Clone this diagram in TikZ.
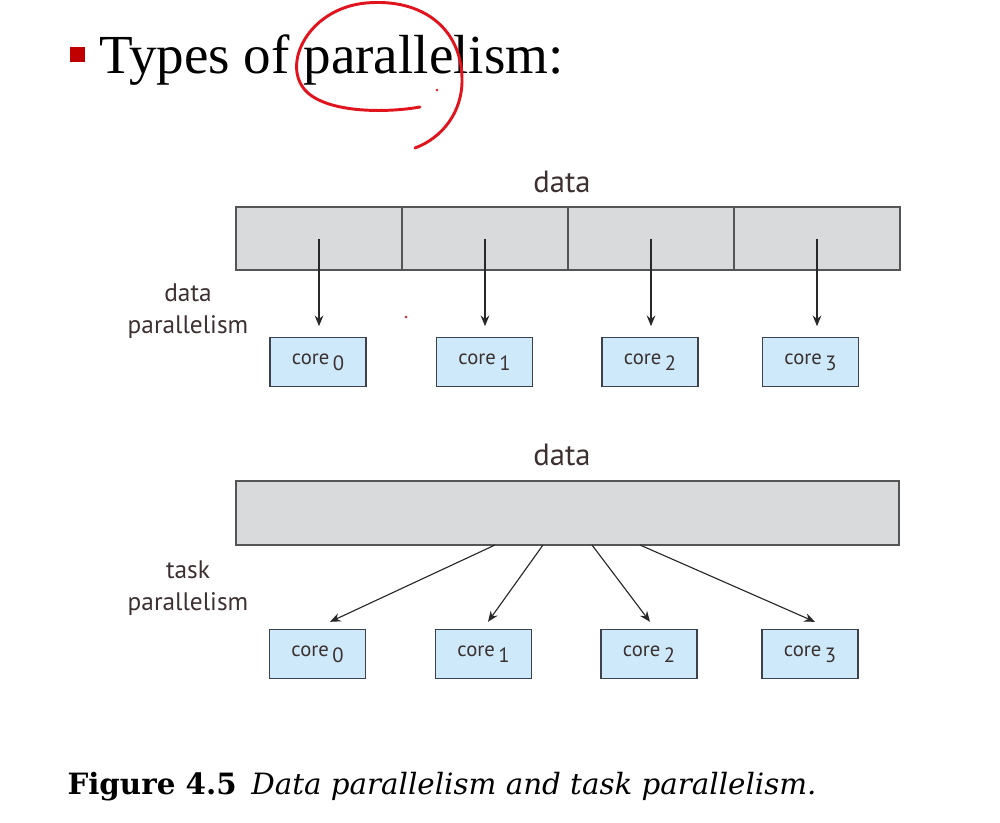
\documentclass[tikz,border=0pt]{standalone}
\usepackage{fontspec}
\setmainfont{Liberation Serif}
\newfontfamily\figsans{PT Sans}
\newfontfamily\capfont{DejaVu Serif}
\usetikzlibrary{arrows.meta}

\definecolor{datagray}{RGB}{217,218,220}
\definecolor{boxline}{RGB}{85,85,85}
\definecolor{coreblue}{RGB}{206,234,250}
\definecolor{coreline}{RGB}{60,65,75}
\definecolor{arrowgray}{RGB}{40,40,40}
\definecolor{labeltext}{RGB}{60,48,48}
\definecolor{bulletred}{RGB}{192,0,0}
\definecolor{inkred}{RGB}{225,20,30}

\newcommand{\corelbl}[1]{core\,\raisebox{-0.3em}{#1}}

\tikzset{every picture/.style={line width=0.75pt}}
\tikzset{
  segbox/.style={draw=boxline, fill=datagray, line width=1.2pt, minimum width=124.5pt, minimum height=47.25pt, inner sep=0pt},
  corebox/.style={draw=coreline, fill=coreblue, line width=1pt, minimum width=72pt, minimum height=36.75pt, inner sep=0pt, text=labeltext, font=\figsans\fontsize{15.5}{18}\selectfont},
  flow/.style={draw=arrowgray, line width=0.85pt, -{Stealth[length=8pt,width=6.5pt]}},
  sidelbl/.style={text=labeltext, align=center, inner sep=0pt, font=\figsans\fontsize{19}{23.5}\selectfont},
  toplbl/.style={text=labeltext, inner sep=0pt, font=\figsans\fontsize{23}{27}\selectfont},
}

\begin{document}
\begin{tikzpicture}[x=0.75pt,y=0.75pt,yscale=-1,xscale=1]
\useasboundingbox (0,0) rectangle (1000,822);

%Title
    \fill [bulletred] (70,47) rectangle (85,62);
    \node [anchor=base west, inner sep=0pt, font=\fontsize{41.3}{45}\selectfont] (title) at (99,73) {Types of parallelism:};
%Ink mark round "parallel"
    \draw [inkred, line width=2.2pt, line cap=round] (420,107) .. controls (380,114) and (318,112) .. (302,86) .. controls (284,58) and (312,8) .. (366,3) .. controls (422,-2) and (461,28) .. (462,78) .. controls (463,112) and (442,138) .. (415,148);
    \fill [inkred] (437,90) circle (1.4);
    \fill [inkred] (406,317) circle (1.4);

%Data parallelism
    \node [toplbl] (datatop) at (562,182) {data};
    \foreach \i in {0,...,3}
        \node [segbox] (seg\i) at (319+166*\i,238.5) {};
    \foreach \i/\x in {0/318,1/484.5,2/650,3/810.5}
        \node [corebox] (tc\i) at (\x,362) {\corelbl{\i}};
    \foreach \i in {0,...,3}
        \draw [flow, shorten >=8pt] (seg\i.center) -- (seg\i.center |- tc\i.north);
    \node [sidelbl] (datalbl) at (188,311) {data\\parallelism};

%Task parallelism
    \node [toplbl] (databot) at (562,455) {data};
    \node [segbox, minimum width=497.25pt, minimum height=48pt] (task) at (567.5,513) {};
    \foreach \i/\x in {0/317.5,1/483.5,2/649,3/810}
        \node [corebox] (bc\i) at (\x,654) {\corelbl{\i}};
    \coordinate (tk0) at (495,545);
    \coordinate (tk1) at (543,545);
    \coordinate (tk2) at (592,545);
    \coordinate (tk3) at (640,545);
    \draw [flow] (tk0) -- ([shift={(12.5,-7)}]bc0.north);
    \draw [flow] (tk1) -- ([shift={(4.5,-7)}]bc1.north);
    \draw [flow] (tk2) -- ([shift={(1,-7)}]bc2.north);
    \draw [flow] (tk3) -- ([shift={(5,-7)}]bc3.north);
    \node [sidelbl] (tasklbl) at (188,588) {task\\parallelism};

%Caption
    \node [anchor=base west, inner sep=0pt, font=\capfont\fontsize{22}{26}\selectfont] (caption) at (67,794) {\textbf{Figure 4.5}\hspace{0.5em}\textit{Data parallelism and task parallelism.}};

\end{tikzpicture}
\end{document}
